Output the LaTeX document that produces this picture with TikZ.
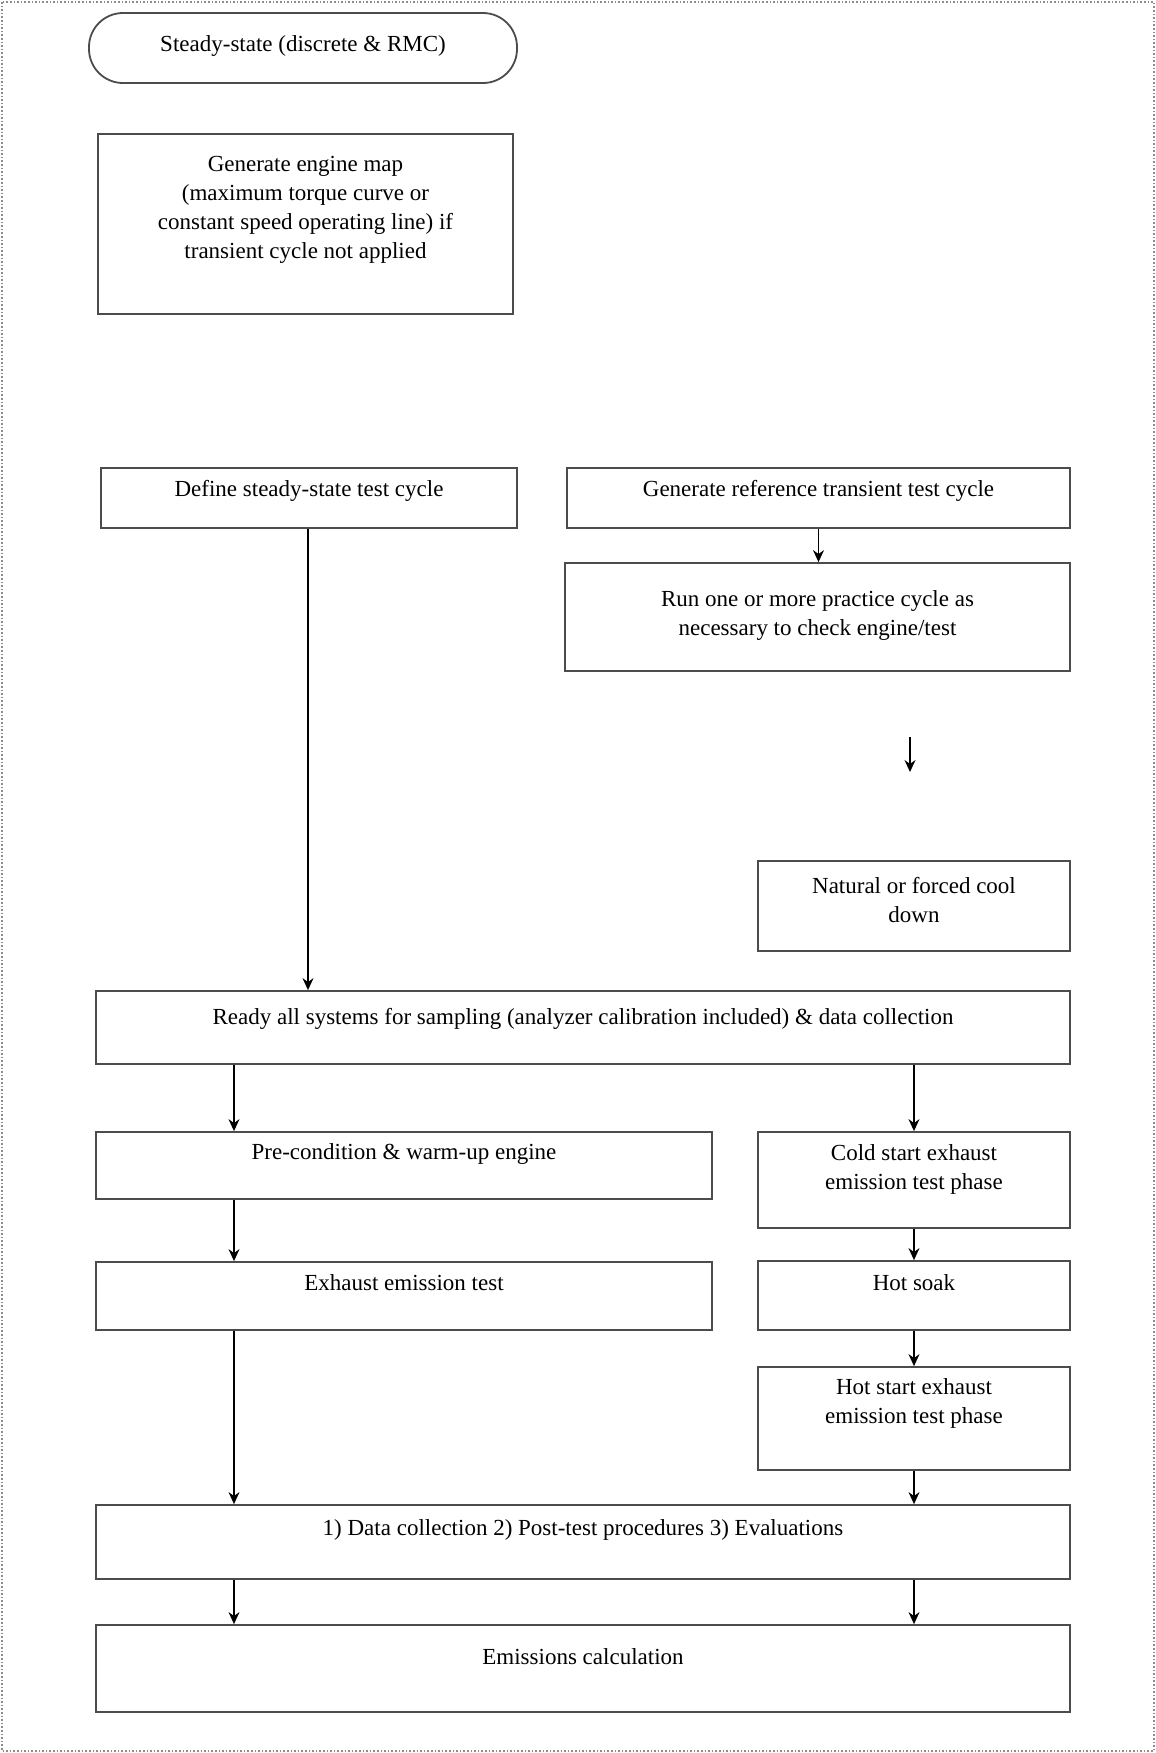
\documentclass[tikz,border=0pt]{standalone}
\usepackage{fontspec}
\setmainfont{Liberation Serif}
\usetikzlibrary{arrows.meta,calc}
\begin{document}
\begin{tikzpicture}[x=0.5pt,y=-0.5pt,
  box/.style={draw=black!70, line width=0.9pt, fill=none, inner sep=0pt, rectangle},
  rbox/.style={box, rounded corners=17pt},
  txt/.style={align=center, inner sep=0pt, font=\fontsize{11.5pt}{14.5pt}\selectfont},
  arr/.style={draw=black, line width=0.7pt, -{Stealth[length=6pt,width=5.5pt]}},
  outerframe/.style={draw=black!45, line width=0.8pt, densely dotted}
]
\useasboundingbox (0,0) rectangle (1156,1753);
\draw[outerframe] (2,2) rectangle (1154,1751);

% boxes
\node[rbox, minimum width=214pt, minimum height=35pt] (steady) at (303,48) {};
\node[box, minimum width=207.5pt, minimum height=90pt] (engine) at (305.5,224) {};
\node[box, minimum width=208pt, minimum height=30pt] (define) at (309,498) {};
\node[box, minimum width=251.5pt, minimum height=30pt] (gen) at (818.5,498) {};
\node[box, minimum width=252.5pt, minimum height=54pt] (run) at (817.5,617) {};
\node[box, minimum width=156pt, minimum height=45pt] (cool) at (914,906) {};
\node[box, minimum width=487pt, minimum height=36.5pt] (ready) at (583,1027.5) {};
\node[box, minimum width=308pt, minimum height=33.5pt] (precond) at (404,1165.5) {};
\node[box, minimum width=156pt, minimum height=48pt] (cold) at (914,1180) {};
\node[box, minimum width=308pt, minimum height=34pt] (exhaust) at (404,1296) {};
\node[box, minimum width=156pt, minimum height=34.5pt] (hotsoak) at (914,1295.5) {};
\node[box, minimum width=156pt, minimum height=51.5pt] (hotstart) at (914,1418.5) {};
\node[box, minimum width=487pt, minimum height=37pt] (data) at (583,1542) {};
\node[box, minimum width=487pt, minimum height=43.5pt] (emis) at (583,1668.5) {};

% texts
\node[txt] (t-steady) at (303,46) {Steady-state (discrete \& RMC)};
\node[txt] (t-engine) at (305.5,210) {Generate engine map\\(maximum torque curve or\\constant speed operating line) if\\transient cycle not applied};
\node[txt] (t-define) at (309,491) {Define steady-state test cycle};
\node[txt] (t-gen) at (818.5,491) {Generate reference transient test cycle};
\node[txt] (t-run) at (817.5,615) {Run one or more practice cycle as\\necessary to check engine/test};
\node[txt] (t-cool) at (914,900) {Natural or forced cool\\down};
\node[txt] (t-ready) at (583,1019) {Ready all systems for sampling (analyzer calibration included) \& data collection};
\node[txt] (t-precond) at (404,1154) {Pre-condition \& warm-up engine};
\node[txt] (t-cold) at (914,1169) {Cold start exhaust\\emission test phase};
\node[txt] (t-exhaust) at (404,1283) {Exhaust emission test};
\node[txt] (t-hotsoak) at (914,1283) {Hot soak};
\node[txt] (t-hotstart) at (914,1403) {Hot start exhaust\\emission test phase};
\node[txt] (t-data) at (583,1530) {1) Data collection 2) Post-test procedures 3) Evaluations};
\node[txt] (t-emis) at (583,1657) {Emissions calculation};

% column guides
\coordinate (lx) at (234,0);
\coordinate (dx) at (308,0);
\coordinate (rx) at (914,0);
\coordinate (la1) at (910,737);
\coordinate (la2) at (910,772);

% connectors
\draw[arr] (define.south -| dx) -- (ready.north -| dx);
\draw[arr] (gen.south) -- (gen.south |- run.north);
\draw[arr] (la1) -- (la2);
\draw[arr] (ready.south -| lx) -- (precond.north -| lx);
\draw[arr] (precond.south -| lx) -- (exhaust.north -| lx);
\draw[arr] (exhaust.south -| lx) -- (data.north -| lx);
\draw[arr] (data.south -| lx) -- (emis.north -| lx);
\draw[arr] (ready.south -| rx) -- (cold.north);
\draw[arr] (cold.south) -- (hotsoak.north);
\draw[arr] (hotsoak.south) -- (hotstart.north);
\draw[arr] (hotstart.south) -- (data.north -| rx);
\draw[arr] (data.south -| rx) -- (emis.north -| rx);
\end{tikzpicture}
\end{document}
